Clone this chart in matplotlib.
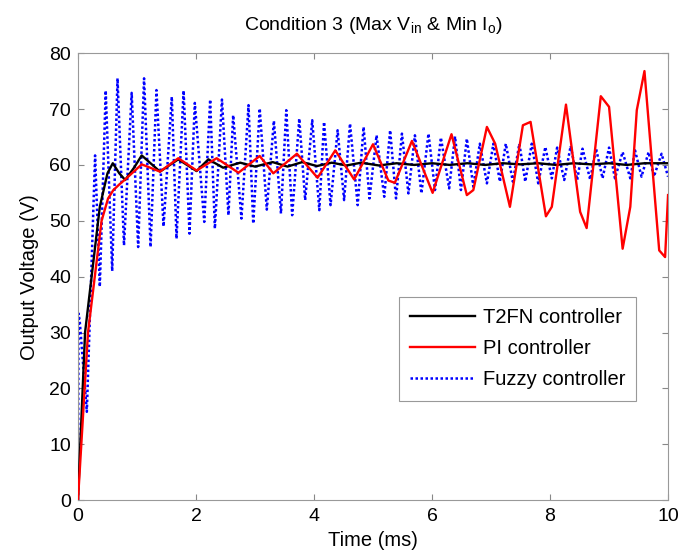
"""Output voltage response of three controllers (Condition 3)."""

import matplotlib

matplotlib.use("Agg")
import matplotlib.pyplot as plt

plt.rcParams["font.family"] = ["Liberation Sans", "DejaVu Sans"]
plt.rcParams["mathtext.fontset"] = "custom"
plt.rcParams["mathtext.rm"] = "Liberation Sans"

# T2FN controller
t2fn_t = [0, 0.12, 0.37, 0.50, 0.59, 0.70, 0.80, 0.95, 1.08,
          1.39, 1.70, 2.01, 2.21, 2.46,
          2.75, 3.0, 3.3, 3.55, 3.8, 4.05, 4.3, 4.55, 4.8,
          5.1, 5.4, 5.7, 6.0, 6.3, 6.6, 6.9, 7.2, 7.5, 7.8,
          8.1, 8.4, 8.7, 9.0, 9.3, 9.6, 10.0]
t2fn_v = [0, 30, 52.5, 58.5, 60.3, 58.5, 57.3, 59.5, 61.7,
          58.8, 61, 58.9, 61, 59.5,
          60.4, 59.7, 60.5, 59.7, 60.5, 59.8, 60.4, 59.9, 60.4,
          59.9, 60.3, 60.0, 60.3, 60.0, 60.3, 60.0, 60.3, 60.1, 60.3,
          60.0, 60.3, 60.1, 60.3, 60.0, 60.3, 60.3]

# PI controller
pi_t = [0, 0.17, 0.40, 0.51, 0.6, 0.7, 0.80, 1.08,
        1.39, 1.70, 2.01, 2.35, 2.72, 3.08,
        3.31, 3.71, 4.06, 4.36, 4.68, 5.00,
        5.26, 5.37, 5.66, 6.01, 6.33, 6.59,
        6.70, 6.93, 7.07, 7.32, 7.54, 7.67,
        7.93, 8.03, 8.27, 8.51, 8.62, 8.86,
        9.00, 9.23, 9.36, 9.47, 9.60, 9.85,
        9.95, 10.0]
pi_v = [0, 30, 50, 54, 55.5, 56.5, 57.4, 60.1,
        58.8, 61.2, 59, 61.2, 58.6, 61.6,
        58.5, 62, 57.7, 62.6, 57.4, 63.7,
        57.2, 56.8, 64.3, 55, 65.5, 54.6,
        55.5, 66.8, 63.8, 52.5, 67.1, 67.7,
        50.8, 52.5, 70.8, 51.6, 48.7, 72.3,
        70.4, 45, 52.5, 69.8, 76.8, 44.7,
        43.5, 54.6]

# Fuzzy controller
fuzzy_t = [0, 0.01, 0.03, 0.15, 0.29, 0.37, 0.47, 0.58, 0.67, 0.78,
           0.91, 1.02, 1.12, 1.23, 1.33, 1.45, 1.59, 1.67, 1.79, 1.89,
           1.98, 2.14, 2.24, 2.32, 2.44, 2.55, 2.63, 2.77, 2.89, 2.97,
           3.08, 3.20, 3.32, 3.44, 3.53, 3.63, 3.75, 3.85, 3.97, 4.09,
           4.17, 4.28, 4.40, 4.51, 4.61, 4.74, 4.84, 4.94, 5.06, 5.19,
           5.29, 5.39, 5.49, 5.60, 5.71, 5.82, 5.94, 6.05, 6.15, 6.29,
           6.39, 6.49, 6.59, 6.70, 6.81, 6.93, 7.04, 7.15, 7.25, 7.37,
           7.48, 7.58, 7.69, 7.80, 7.92, 8.03, 8.12, 8.24, 8.35, 8.46,
           8.55, 8.68, 8.78, 8.89, 9.00, 9.10, 9.23, 9.36, 9.44, 9.55,
           9.67, 9.76, 9.89, 10.0]
fuzzy_v = [0, 33.4, 32, 15.8, 61.7, 38.2, 73.3, 41, 75.5, 45.6,
           72.9, 45.3, 75.5, 45.3, 73.4, 49, 72.2, 46.8, 73.3, 47.7,
           71.1, 49.8, 71.7, 48.6, 71.7, 51, 68.9, 50.4, 70.7, 49.5,
           70.1, 52, 67.9, 51.3, 69.8, 51, 68.3, 53.7, 68, 51.9,
           67.7, 52.8, 66.2, 53.7, 67.4, 52.8, 66.8, 54, 65.3, 54.3,
           66.2, 54, 65.6, 54.9, 65.3, 54.9, 65.6, 55.5, 64.9, 55.8,
           65.1, 55.5, 64.7, 56.1, 63.8, 56.7, 63.8, 57, 63.8, 57,
           63.8, 57, 63.8, 56.7, 63.2, 57.6, 63.1, 57.3, 63.4, 57.3,
           62.9, 57.4, 62.9, 57.6, 63.1, 57.6, 62.3, 57.6, 62.6, 57.9,
           62.3, 57.9, 62, 57.9]

x_ticks = [0, 2, 4, 6, 8, 10]
y_ticks = [0, 10, 20, 30, 40, 50, 60, 70, 80]

fig = plt.figure(figsize=(6.81, 5.6), dpi=100)
ax = fig.add_axes([0.1145, 0.107, 0.8665, 0.798])

ax.plot(t2fn_t, t2fn_v, color="black", lw=1.7, label="T2FN controller", zorder=3)
ax.plot(pi_t, pi_v, color="red", lw=1.7, label="PI controller", zorder=3)
ax.plot(fuzzy_t, fuzzy_v, color="blue", lw=1.8, ls=(0, (1, 1)),
        label="Fuzzy controller", zorder=2)

ax.set_xlim(0, 10)
ax.set_ylim(0, 80)
ax.set_xticks(x_ticks)
ax.set_yticks(y_ticks)
ax.tick_params(direction="in", top=True, right=True, length=4,
               color="#888888", labelsize=14)
ax.tick_params(axis="x", pad=6)
ax.tick_params(axis="y", pad=5)
for s in ax.spines.values():
    s.set_color("#999999")
    s.set_linewidth(0.8)

ax.set_title(r"Condition 3 (Max V$_{\mathregular{in}}$ & Min I$_{\mathregular{o}}$)",
             fontsize=14, pad=17)
ax.set_xlabel("Time (ms)", fontsize=14.5, labelpad=4)
ax.set_ylabel("Output Voltage (V)", fontsize=14.5, labelpad=7)

leg = ax.legend(loc="upper left", bbox_to_anchor=(0.544, 0.454),
                borderaxespad=0, fontsize=14.5, handlelength=3.2,
                handletextpad=0.4, fancybox=False, framealpha=1,
                edgecolor="#999999", borderpad=0.55, labelspacing=0.6)
leg.get_frame().set_linewidth(0.8)

fig.savefig("out.png", dpi=100)
plt.close(fig)
